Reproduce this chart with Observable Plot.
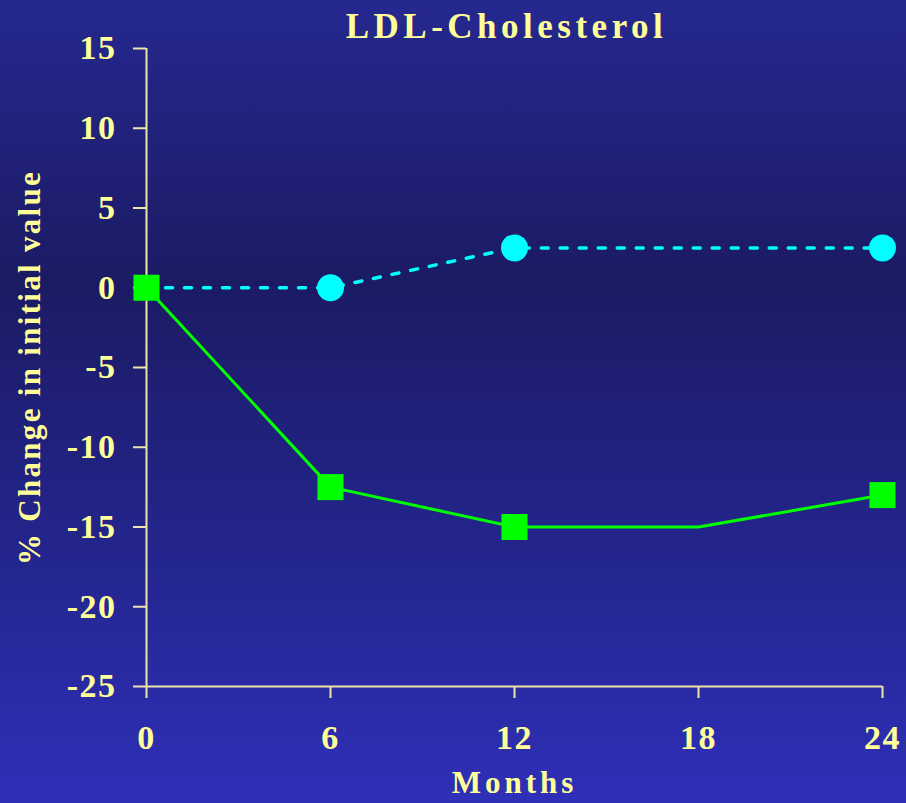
<!DOCTYPE html>
<html>
<head>
<meta charset="utf-8">
<script src="https://cdn.jsdelivr.net/npm/d3@7"></script>
<script src="https://cdn.jsdelivr.net/npm/@observablehq/plot@0.6"></script>
<style>
  html, body { margin: 0; padding: 0; }
  body {
    width: 906px; height: 803px; overflow: hidden;
    background: linear-gradient(to bottom, #25288f 0%, #1b1b64 35%, #23258c 68%, #2f2fb8 100%);
  }
  svg { display: block; }
</style>
</head>
<body>
<div id="chart"></div>
<script>
const months = [0, 6, 12, 18, 24];
const treated = [0, -12.5, -15, -15, -13];       // green squares
const control = [0, 0, 2.5, 2.5, 2.5];            // cyan circles
const treatedMarkers = [true, true, true, false, true];
const controlMarkers = [false, true, true, false, true];
const yTicks = [15, 10, 5, 0, -5, -10, -15, -20, -25];
const xTicks = [0, 6, 12, 18, 24];
const title = "LDL-Cholesterol";
const xLabel = "Months";
const yLabel = "% Change in initial value";

const tData = months.map((m, i) => ({month: m, value: treated[i], marker: treatedMarkers[i]}));
const cData = months.map((m, i) => ({month: m, value: control[i], marker: controlMarkers[i]}));

const textColor = "#FFFF99";
const axisColor = "#EEE6A8";
const font = "'Liberation Serif', 'Times New Roman', serif";

const chart = Plot.plot({
  width: 906,
  height: 803,
  marginLeft: 146,
  marginRight: 24,
  marginTop: 48,
  marginBottom: 117,
  style: {background: "transparent", color: textColor, fontFamily: font, overflow: "visible"},
  x: {domain: [0, 24]},
  y: {domain: [-25, 15]},
  marks: [
    Plot.axisY(yTicks, {tickSize: 13, tickPadding: 17, fontSize: 34, fontWeight: "bold", stroke: axisColor, strokeWidth: 2, fill: textColor, tickFormat: d => String(d), label: null}),
    Plot.axisX(xTicks, {tickSize: 12, tickPadding: 26, fontSize: 34, fontWeight: "bold", stroke: axisColor, strokeWidth: 2, fill: textColor, tickFormat: d => String(d), label: null}),
    Plot.ruleX([0], {stroke: axisColor, strokeWidth: 2}),
    Plot.ruleY([-25], {stroke: axisColor, strokeWidth: 2}),
    Plot.line(cData, {x: "month", y: "value", stroke: "#00FFFF", strokeWidth: 3.5, strokeDasharray: "7,12"}),
    Plot.line(tData, {x: "month", y: "value", stroke: "#00FF00", strokeWidth: 3}),
    Plot.dot(cData.filter(d => d.marker), {x: "month", y: "value", r: 13.5, fill: "#00FFFF", stroke: "none", symbol: "circle"}),
    Plot.dot(tData.filter(d => d.marker), {x: "month", y: "value", r: 14.7, fill: "#00FF00", stroke: "none", symbol: "square"}),
    Plot.text([title], {frameAnchor: "top", lineAnchor: "middle", textAnchor: "middle", dy: -22, dx: -8, fontSize: 35, fontWeight: "bold", fill: textColor}),
    Plot.text([xLabel], {frameAnchor: "bottom", lineAnchor: "middle", textAnchor: "middle", dy: 97, fontSize: 31, fontWeight: "bold", fill: textColor}),
    Plot.text([yLabel], {frameAnchor: "left", lineAnchor: "middle", textAnchor: "middle", dx: -116, rotate: -90, fontSize: 31, fontWeight: "bold", fill: textColor})
  ]
});

const sel = d3.select(chart);
const spacing = {[title]: 4.5, [xLabel]: 4, [yLabel]: 2.3};
sel.selectAll("text").each(function() {
  const t = this.textContent;
  if (spacing[t] != null) d3.select(this).attr("letter-spacing", spacing[t]);
});
sel.selectAll("g[aria-label='y-axis tick label'] text, g[aria-label='x-axis tick label'] text").attr("letter-spacing", 1.5);

document.getElementById("chart").appendChild(chart);
</script>
</body>
</html>
